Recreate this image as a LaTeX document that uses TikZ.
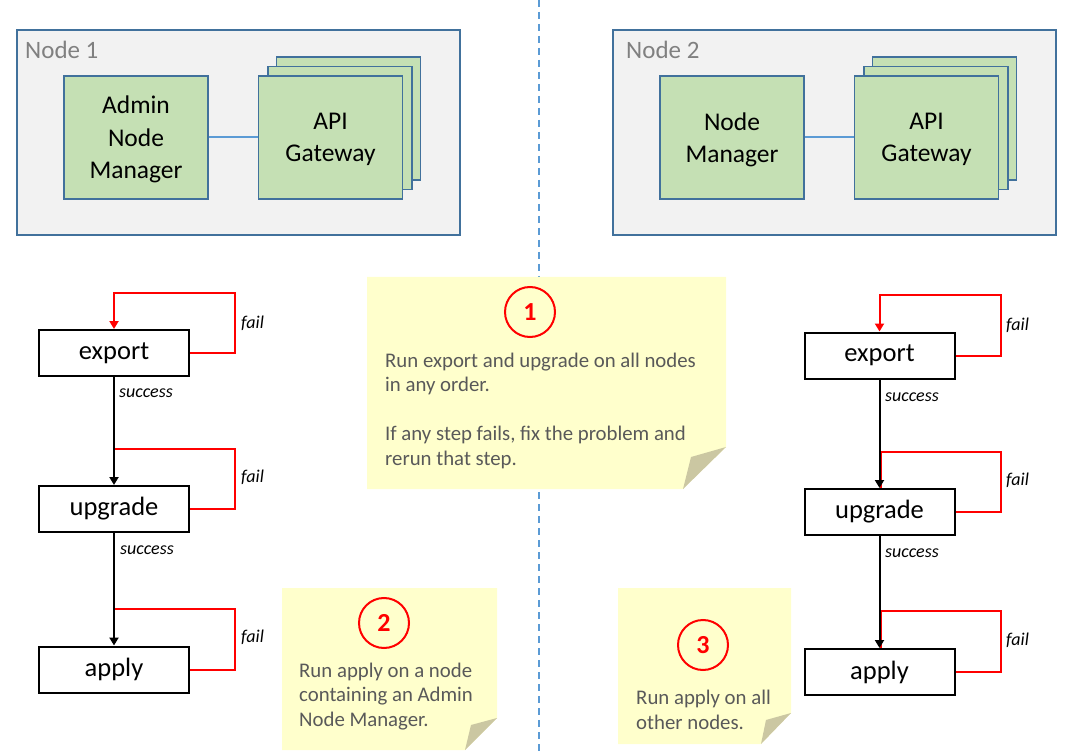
\documentclass[tikz,border=0pt]{standalone}
\usepackage{fontspec}
\setmainfont{Carlito}
\usepackage{tikz}
\usetikzlibrary{arrows.meta}
\definecolor{hostfill}{HTML}{F2F2F2}
\definecolor{hostline}{HTML}{41719C}
\definecolor{compfill}{HTML}{C5E0B4}
\definecolor{linkblue}{HTML}{5B9BD5}
\definecolor{notefill}{HTML}{FFFFCC}
\definecolor{foldfill}{HTML}{CBC7A2}
\definecolor{notegray}{HTML}{595959}
\definecolor{labelgray}{HTML}{808080}
\tikzstyle{host}=[draw=hostline, fill=hostfill, line width=1.5pt, minimum width=443pt, minimum height=205pt, inner sep=0pt]
\tikzstyle{hostlabel}=[text=labelgray, inner sep=0pt, font=\fontsize{25}{30}\selectfont]
\tikzstyle{comp}=[draw=hostline, fill=compfill, line width=1.5pt, minimum width=144pt, minimum height=123pt, inner sep=0pt, text depth=0pt, align=center, font=\fontsize{25.5}{32.5}\selectfont]
\tikzstyle{stepbox}=[draw, line width=2pt, fill=white, minimum width=150pt, minimum height=46pt, inner sep=0pt, font=\fontsize{26.5}{30}\selectfont]
\tikzstyle{okline}=[line width=2pt, -{Triangle[width=9pt,length=8pt]}]
\tikzstyle{failline}=[draw=red, line width=2pt]
\tikzstyle{lbl}=[inner sep=0pt, font=\itshape\fontsize{18}{20}\selectfont]
\tikzstyle{notetext}=[text=notegray, inner sep=0pt, align=left, font=\fontsize{20.8}{24.5}\selectfont]
\tikzstyle{num}=[circle, draw=red, line width=2pt, minimum size=50pt, inner sep=0pt, text=red, font=\bfseries\fontsize{26}{30}\selectfont]

\begin{document}
\begin{tikzpicture}[x=1pt, y=-1pt]
        \useasboundingbox (0,0) rectangle (1077,754);
        % divider
        \coordinate (dtop) at (539,0);
        \coordinate (dbot) at (539,754);
        \draw[linkblue, line width=2pt, dash pattern=on 7pt off 5pt] (dtop) -- (dbot);

        % Node 1
        \node[host] (n1) at (238.5,132.5) {};
        \node[hostlabel, anchor=west] (n1l) at (25,50) {Node 1};
        \node[comp] (anm) at (136,137.5) {Admin\\Node\\Manager};
        \node[comp] (gw1c) at (348.5,118.5) {};
        \node[comp] (gw1b) at (340,128) {};
        \node[comp] (gw1) at (330.5,137.5) {API\\Gateway};
        \draw[linkblue, line width=2pt] (anm.east) -- (gw1.west);

        % Node 2
        \node[host] (n2) at (834.5,132.5) {};
        \node[hostlabel, anchor=west] (n2l) at (626,50) {Node 2};
        \node[comp] (nm) at (732,137.5) {Node\\Manager};
        \node[comp] (gw2c) at (944.5,118.5) {};
        \node[comp] (gw2b) at (936,128) {};
        \node[comp] (gw2) at (926.5,137.5) {API\\Gateway};
        \draw[linkblue, line width=2pt] (nm.east) -- (gw2.west);

        % notes
        \fill[notefill] (367,277) -- (726,277) -- (726,447) -- (683,489) -- (367,489) -- cycle;
        \fill[foldfill] (726,447) -- (691,457) -- (683,489) -- cycle;
        \fill[notefill] (282,588) -- (497,588) -- (497,718) -- (465,750) -- (282,750) -- cycle;
        \fill[foldfill] (497,718) -- (471,725) -- (465,750) -- cycle;
        \fill[notefill] (618,588) -- (791,588) -- (791,713) -- (761,744) -- (618,744) -- cycle;
        \fill[foldfill] (791,713) -- (766,720) -- (761,744) -- cycle;
        \node[num] (c1) at (530,312) {1};
        \node[num] (c2) at (384,623) {2};
        \node[num] (c3) at (703,645) {3};
        \node[notetext, anchor=base west] (t1) at (385,465) {Run export and upgrade on all nodes\\in any order.\\[24.5pt]If any step fails, fix the problem and\\rerun that step.};
        \node[notetext, anchor=base west] (t2) at (299,726) {Run apply on a node\\containing an Admin\\Node Manager.};
        \node[notetext, anchor=base west] (t3) at (636,729) {Run apply on all\\other nodes.};

        % left flow
        \node[stepbox] (ex1) at (114,353) {export};
        \node[stepbox] (up1) at (114,509) {upgrade};
        \node[stepbox] (ap1) at (114,669.5) {apply};
        \draw[failline, -{Triangle[width=9pt,length=8pt]}] (ex1.east) -- ++(45,0) |- ([yshift=36pt]ex1.north) -- (ex1.north);
        \draw[failline] (up1.east) -- ++(45,0) |- ([yshift=36.5pt]up1.north);
        \draw[failline] (ap1.east) -- ++(45,0) |- ([yshift=37pt]ap1.north);
        \draw[okline] (ex1.south) -- (up1.north);
        \draw[okline] (up1.south) -- (ap1.north);
        \node[lbl, anchor=west] (s1) at (119,393) {success};
        \node[lbl, anchor=west] (s2) at (120,550) {success};
        \node[lbl, anchor=west] (f1) at (241,323) {fail};
        \node[lbl, anchor=west] (f2) at (241,477) {fail};
        \node[lbl, anchor=west] (f3) at (241,637) {fail};

        % right flow
        \node[stepbox] (ex2) at (879.5,355.5) {export};
        \node[stepbox] (up2) at (879.5,512) {upgrade};
        \node[stepbox] (ap2) at (879.5,672) {apply};
        \draw[failline, -{Triangle[width=9pt,length=8pt]}] (ex2.east) -- ++(45,0) |- ([yshift=36pt]ex2.north) -- (ex2.north);
        \draw[failline] (up2.east) -- ++(45,0) |- ([xshift=1.5pt,yshift=36.5pt]up2.north) -- ([xshift=1.5pt]up2.north);
        \draw[failline] (ap2.east) -- ++(45,0) |- ([xshift=1.5pt,yshift=37pt]ap2.north) -- ([xshift=1.5pt]ap2.north);
        \draw[okline] (ex2.south) -- (up2.north);
        \draw[okline] (up2.south) -- (ap2.north);
        \node[lbl, anchor=west] (s3) at (885,397) {success};
        \node[lbl, anchor=west] (s4) at (885,553) {success};
        \node[lbl, anchor=west] (f4) at (1006,325) {fail};
        \node[lbl, anchor=west] (f5) at (1006,480) {fail};
        \node[lbl, anchor=west] (f6) at (1006,640) {fail};
    \end{tikzpicture}
\end{document}
